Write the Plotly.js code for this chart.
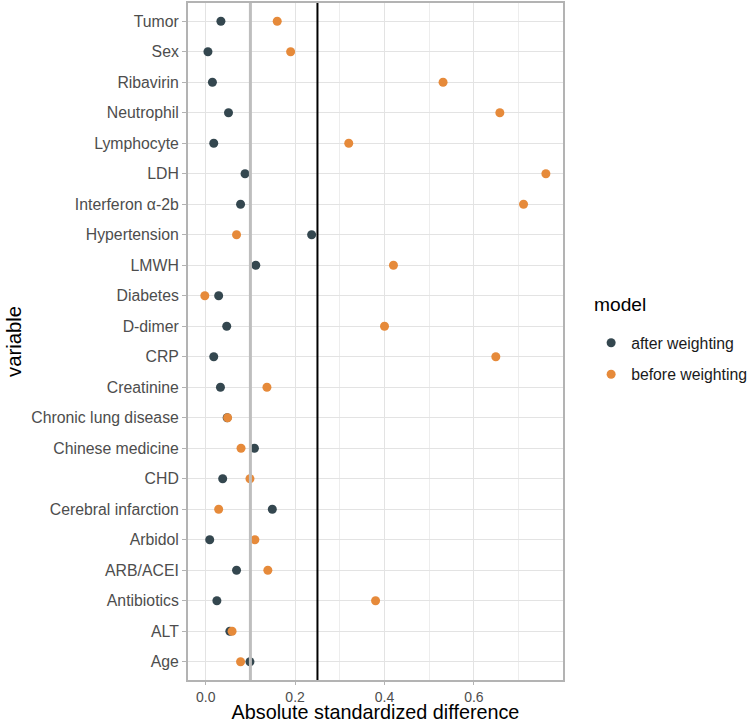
<!DOCTYPE html>
<html>
<head>
<meta charset="utf-8">
<script src="https://cdn.plot.ly/plotly-3.0.1.min.js"></script>
<style>body{margin:0;padding:0;background:#fff;} #chart{width:750px;height:723px;}</style>
</head>
<body>
<div id="chart"></div>
<script>
// Categories from top to bottom
const variables = ["Tumor","Sex","Ribavirin","Neutrophil","Lymphocyte","LDH","Interferon α-2b","Hypertension","LMWH","Diabetes","D-dimer","CRP","Creatinine","Chronic lung disease","Chinese medicine","CHD","Cerebral infarction","Arbidol","ARB/ACEI","Antibiotics","ALT","Age"];
const afterWeighting  = [0.034,0.005,0.015,0.051,0.018,0.088,0.078,0.237,0.112,0.029,0.047,0.018,0.033,0.048,0.109,0.038,0.149,0.009,0.069,0.025,0.054,0.099];
const beforeWeighting = [0.160,0.190,0.531,0.658,0.320,0.761,0.711,0.069,0.420,-0.002,0.400,0.649,0.137,0.049,0.079,0.099,0.029,0.110,0.139,0.380,0.059,0.078];
const seriesNames = ["after weighting","before weighting"];
const seriesColors = ["#34474F","#E68A3A"];
const thresholds = [0.1, 0.25];
const xTicks = [0, 0.2, 0.4, 0.6];
const xTickText = ["0.0","0.2","0.4","0.6"];
const legendTitle = "model";

const FONT = "Liberation Sans, Arial, Helvetica, sans-serif";

const traces = [afterWeighting, beforeWeighting].map((vals, i) => ({
  type: "scatter",
  mode: "markers",
  x: vals,
  y: variables,
  name: seriesNames[i],
  legendgroup: "g" + i,
  marker: {color: seriesColors[i], size: 9, line: {width: 0}},
  hoverinfo: "x+y"
}));

const layout = {
  width: 750, height: 723,
  margin: {l: 188, r: 187, t: 3, b: 43, autoexpand: false},
  paper_bgcolor: "#ffffff",
  plot_bgcolor: "#ffffff",
  font: {family: FONT, color: "#000"},
  showlegend: true,
  legend: {
    x: 1.075, y: 0.523, xanchor: "left", yanchor: "top",
    traceorder: "grouped", tracegroupgap: 8,
    font: {size: 15.8, color: "#1a1a1a"},
    bgcolor: "rgba(0,0,0,0)"
  },
  annotations: [{
    text: legendTitle, xref: "paper", yref: "paper",
    x: 1.0773, y: 0.554, xanchor: "left", yanchor: "middle",
    showarrow: false, font: {size: 19.2, color: "#000"}
  }],
  xaxis: {
    range: [-0.0396, 0.7993],
    tickvals: xTicks, ticktext: xTickText,
    tickfont: {size: 14, color: "#4D4D4D"},
    ticks: "outside", ticklen: 3, tickcolor: "#B3B3B3", tickwidth: 1,
    showgrid: true, gridcolor: "#E3E3E3", gridwidth: 1,
    minor: {dtick: 0.1, tick0: 0, showgrid: true, gridcolor: "#EDEDED", gridwidth: 1},
    zeroline: false,
    showline: true, mirror: true, linecolor: "#B3B3B3", linewidth: 2,
    title: {text: "Absolute standardized difference", font: {size: 19.8, color: "#000"}, standoff: 5},
    automargin: false
  },
  yaxis: {
    type: "category",
    categoryorder: "array",
    categoryarray: variables.slice().reverse(),
    range: [-0.6, variables.length - 1 + 0.6],
    tickfont: {size: 15.8, color: "#4D4D4D"},
    ticks: "outside", ticklen: 4, tickcolor: "#B3B3B3", tickwidth: 1,
    showgrid: true, gridcolor: "#E3E3E3", gridwidth: 1,
    zeroline: false,
    showline: true, mirror: true, linecolor: "#B3B3B3", linewidth: 2,
    title: {text: "variable", font: {size: 20.3, color: "#000"}, standoff: 4},
    automargin: false
  },
  shapes: thresholds.map((t, i) => ({
    type: "line", xref: "x", yref: "paper", x0: t, x1: t, y0: 0, y1: 1,
    line: {color: i === 0 ? "#BEBEBE" : "#000000", width: i === 0 ? 3 : 2},
    layer: "above"
  }))
};

Plotly.newPlot("chart", traces, layout, {displayModeBar: false, staticPlot: true});
</script>
</body>
</html>
